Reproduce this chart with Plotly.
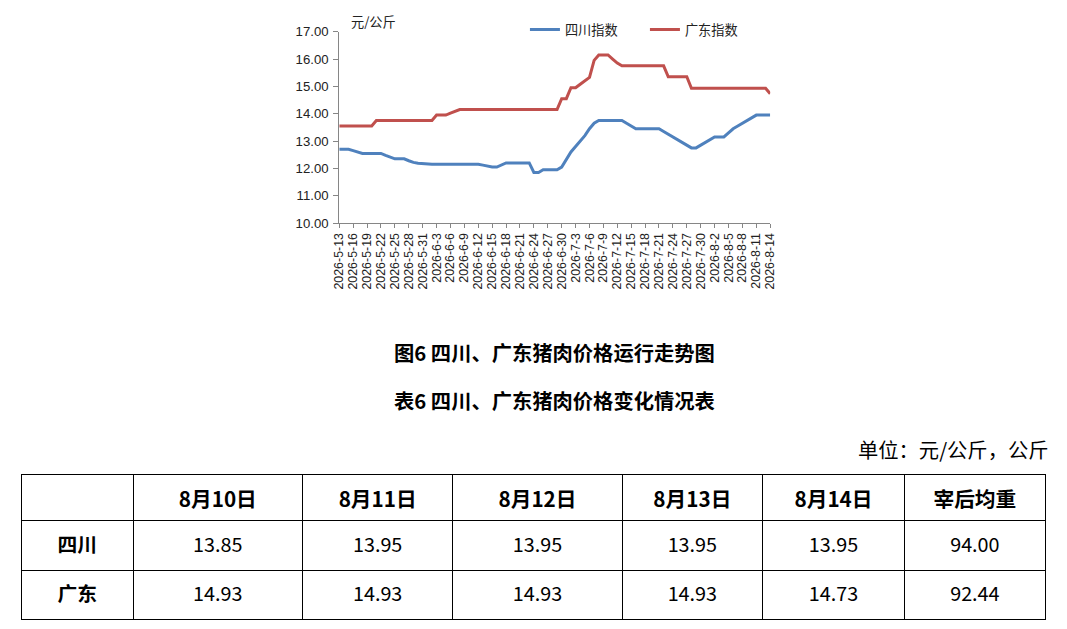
import plotly.graph_objects as go
import pandas as pd

W, H = 1067, 629
CJK = "Noto Sans CJK SC"
BLUE = "#4F81BD"
RED = "#C0504D"
AXIS = "#868686"

# the page is photographed with a small border and shrunk to fit;
# positions below are given in the photo's pixels and mapped back here
OX, OY, SX, SY = 7, 7, 0.987, 0.977


def px(x):
    return (x - OX) / SX / W


def py(y):
    return 1 - (y - OY) / SY / H


# daily index values, 2026-5-13 .. 2026-8-14
dates = pd.date_range("2026-05-13", "2026-08-14", freq="D")
date_labels = [f"{d.year}-{d.month}-{d.day}" for d in dates]
tick_labels = date_labels[::3]

sichuan = [
    12.70, 12.70, 12.70, 12.65, 12.60, 12.55, 12.55, 12.55, 12.55, 12.55,
    12.48, 12.42, 12.35, 12.35, 12.35, 12.28, 12.22, 12.19, 12.17, 12.15,
    12.15, 12.15, 12.15, 12.15, 12.15, 12.15, 12.15, 12.15, 12.15, 12.15,
    12.15, 12.12, 12.08, 12.05, 12.05, 12.12, 12.20, 12.20, 12.20, 12.20,
    12.20, 12.20, 11.85, 11.85, 11.95, 11.95, 11.95, 11.95, 12.05, 12.35,
    12.60, 12.80, 13.00, 13.20, 13.45, 13.65, 13.75, 13.75, 13.75, 13.75,
    13.75, 13.75, 13.65, 13.55, 13.45, 13.45, 13.45, 13.45, 13.45, 13.45,
    13.35, 13.25, 13.15, 13.05, 12.95, 12.85, 12.75, 12.75, 12.85, 12.95,
    13.05, 13.15, 13.15, 13.15, 13.30, 13.45, 13.55, 13.65, 13.75, 13.85,
    13.95, 13.95, 13.95, 13.95,
]

guangdong = [
    13.55, 13.55, 13.55, 13.55, 13.55, 13.55, 13.55, 13.55, 13.75, 13.75,
    13.75, 13.75, 13.75, 13.75, 13.75, 13.75, 13.75, 13.75, 13.75, 13.75,
    13.75, 13.95, 13.95, 13.95, 14.02, 14.08, 14.15, 14.15, 14.15, 14.15,
    14.15, 14.15, 14.15, 14.15, 14.15, 14.15, 14.15, 14.15, 14.15, 14.15,
    14.15, 14.15, 14.15, 14.15, 14.15, 14.15, 14.15, 14.15, 14.55, 14.55,
    14.95, 14.95, 15.08, 15.20, 15.33, 15.95, 16.15, 16.15, 16.15, 16.00,
    15.85, 15.75, 15.75, 15.75, 15.75, 15.75, 15.75, 15.75, 15.75, 15.75,
    15.75, 15.35, 15.35, 15.35, 15.35, 15.35, 14.93, 14.93, 14.93, 14.93,
    14.93, 14.93, 14.93, 14.93, 14.93, 14.93, 14.93, 14.93, 14.93, 14.93,
    14.93, 14.93, 14.93, 14.73,
]

# table data
table_days = ["8月10日", "8月11日", "8月12日", "8月13日", "8月14日"]
table_regions = ["四川", "广东"]
table_sichuan = ["13.85", "13.95", "13.95", "13.95", "13.95"]
table_guangdong = ["14.93", "14.93", "14.93", "14.93", "14.73"]
carcass_weight = ["94.00", "92.44"]

fig = go.Figure()

fig.add_trace(go.Scatter(
    x=date_labels, y=sichuan, name="四川指数", mode="lines",
    line=dict(color=BLUE, width=3), xaxis="x", yaxis="y",
))
fig.add_trace(go.Scatter(
    x=date_labels, y=guangdong, name="广东指数", mode="lines",
    line=dict(color=RED, width=3), xaxis="x", yaxis="y",
))

header_vals = [""] + [f"<b>{d}</b>" for d in table_days] + ["<b>宰后均重</b>"]
cell_cols = [[f"<b>{r}</b>" for r in table_regions]]
for s, g in zip(table_sichuan, table_guangdong):
    cell_cols.append([f"<span>{s}</span>", f"<span>{g}</span>"])
cell_cols.append([f"<span>{v}</span>" for v in carcass_weight])

# plotly adds about a pixel per row for the border, so take it off here
fig.add_trace(go.Table(
    domain=dict(x=[px(21.3), px(1046.3)], y=[0, py(475.3)]),
    columnwidth=[112, 169.4, 150.6, 169.4, 140.6, 142, 141],
    header=dict(
        values=header_vals, height=44 / SY - 1, align="center",
        line=dict(color="black", width=1), fill=dict(color="white"),
        font=dict(family=CJK, size=20.7, color="black"),
    ),
    cells=dict(
        values=cell_cols, height=49 / SY - 1, align="center",
        line=dict(color="black", width=1), fill=dict(color="white"),
        font=dict(family=CJK, size=19.8, color="black"),
    ),
))

fig.update_layout(
    width=W, height=H,
    margin=dict(l=0, r=0, t=0, b=0),
    paper_bgcolor="white", plot_bgcolor="white",
    font=dict(family=CJK, color="#222222"),
    xaxis=dict(
        type="category", domain=[px(339.3), px(770.3)], range=[0, 93],
        tickmode="array", tickvals=tick_labels, ticktext=tick_labels,
        tickangle=-90, ticks="outside", ticklen=4, tickcolor=AXIS,
        showline=True, linecolor=AXIS, showgrid=False, zeroline=False,
        tickfont=dict(family="Liberation Sans", size=12.4, color="#222222"),
        anchor="y",
    ),
    yaxis=dict(
        domain=[py(223.3), py(31.7)], range=[10, 17], dtick=1,
        tickformat=".2f", ticks="outside", ticklen=5, tickcolor=AXIS,
        ticklabelstandoff=2,
        showline=True, linecolor=AXIS, showgrid=False, zeroline=False,
        tickfont=dict(family="Liberation Sans", size=13.2, color="#222222"),
        anchor="x",
    ),
    legend=dict(
        orientation="h", x=px(525), y=py(30), xanchor="left", yanchor="middle",
        font=dict(family=CJK, size=13.2, color="#222222"),
        itemwidth=30, entrywidth=75, bgcolor="rgba(0,0,0,0)",
    ),
    annotations=[
        dict(text="元/公斤", x=px(349), y=py(22), xref="paper", yref="paper",
             xanchor="left", yanchor="middle", showarrow=False,
             font=dict(family=CJK, size=13.2, color="#222222")),
        dict(text="<b>图6 四川、广东猪肉价格运行走势图</b>", x=px(554.5), y=py(352),
             xref="paper", yref="paper", xanchor="center", yanchor="middle",
             showarrow=False, font=dict(family=CJK, size=20.3, color="black")),
        dict(text="<b>表6 四川、广东猪肉价格变化情况表</b>", x=px(554.5), y=py(400),
             xref="paper", yref="paper", xanchor="center", yanchor="middle",
             showarrow=False, font=dict(family=CJK, size=20.3, color="black")),
        dict(text="单位：元/公斤，公斤", x=px(1050), y=py(449),
             xref="paper", yref="paper", xanchor="right", yanchor="middle",
             showarrow=False, font=dict(family=CJK, size=20.3, color="black")),
    ],
)

fig.write_html("out.html", config={"displayModeBar": False},
               post_script="document.body.style.margin='0';")
